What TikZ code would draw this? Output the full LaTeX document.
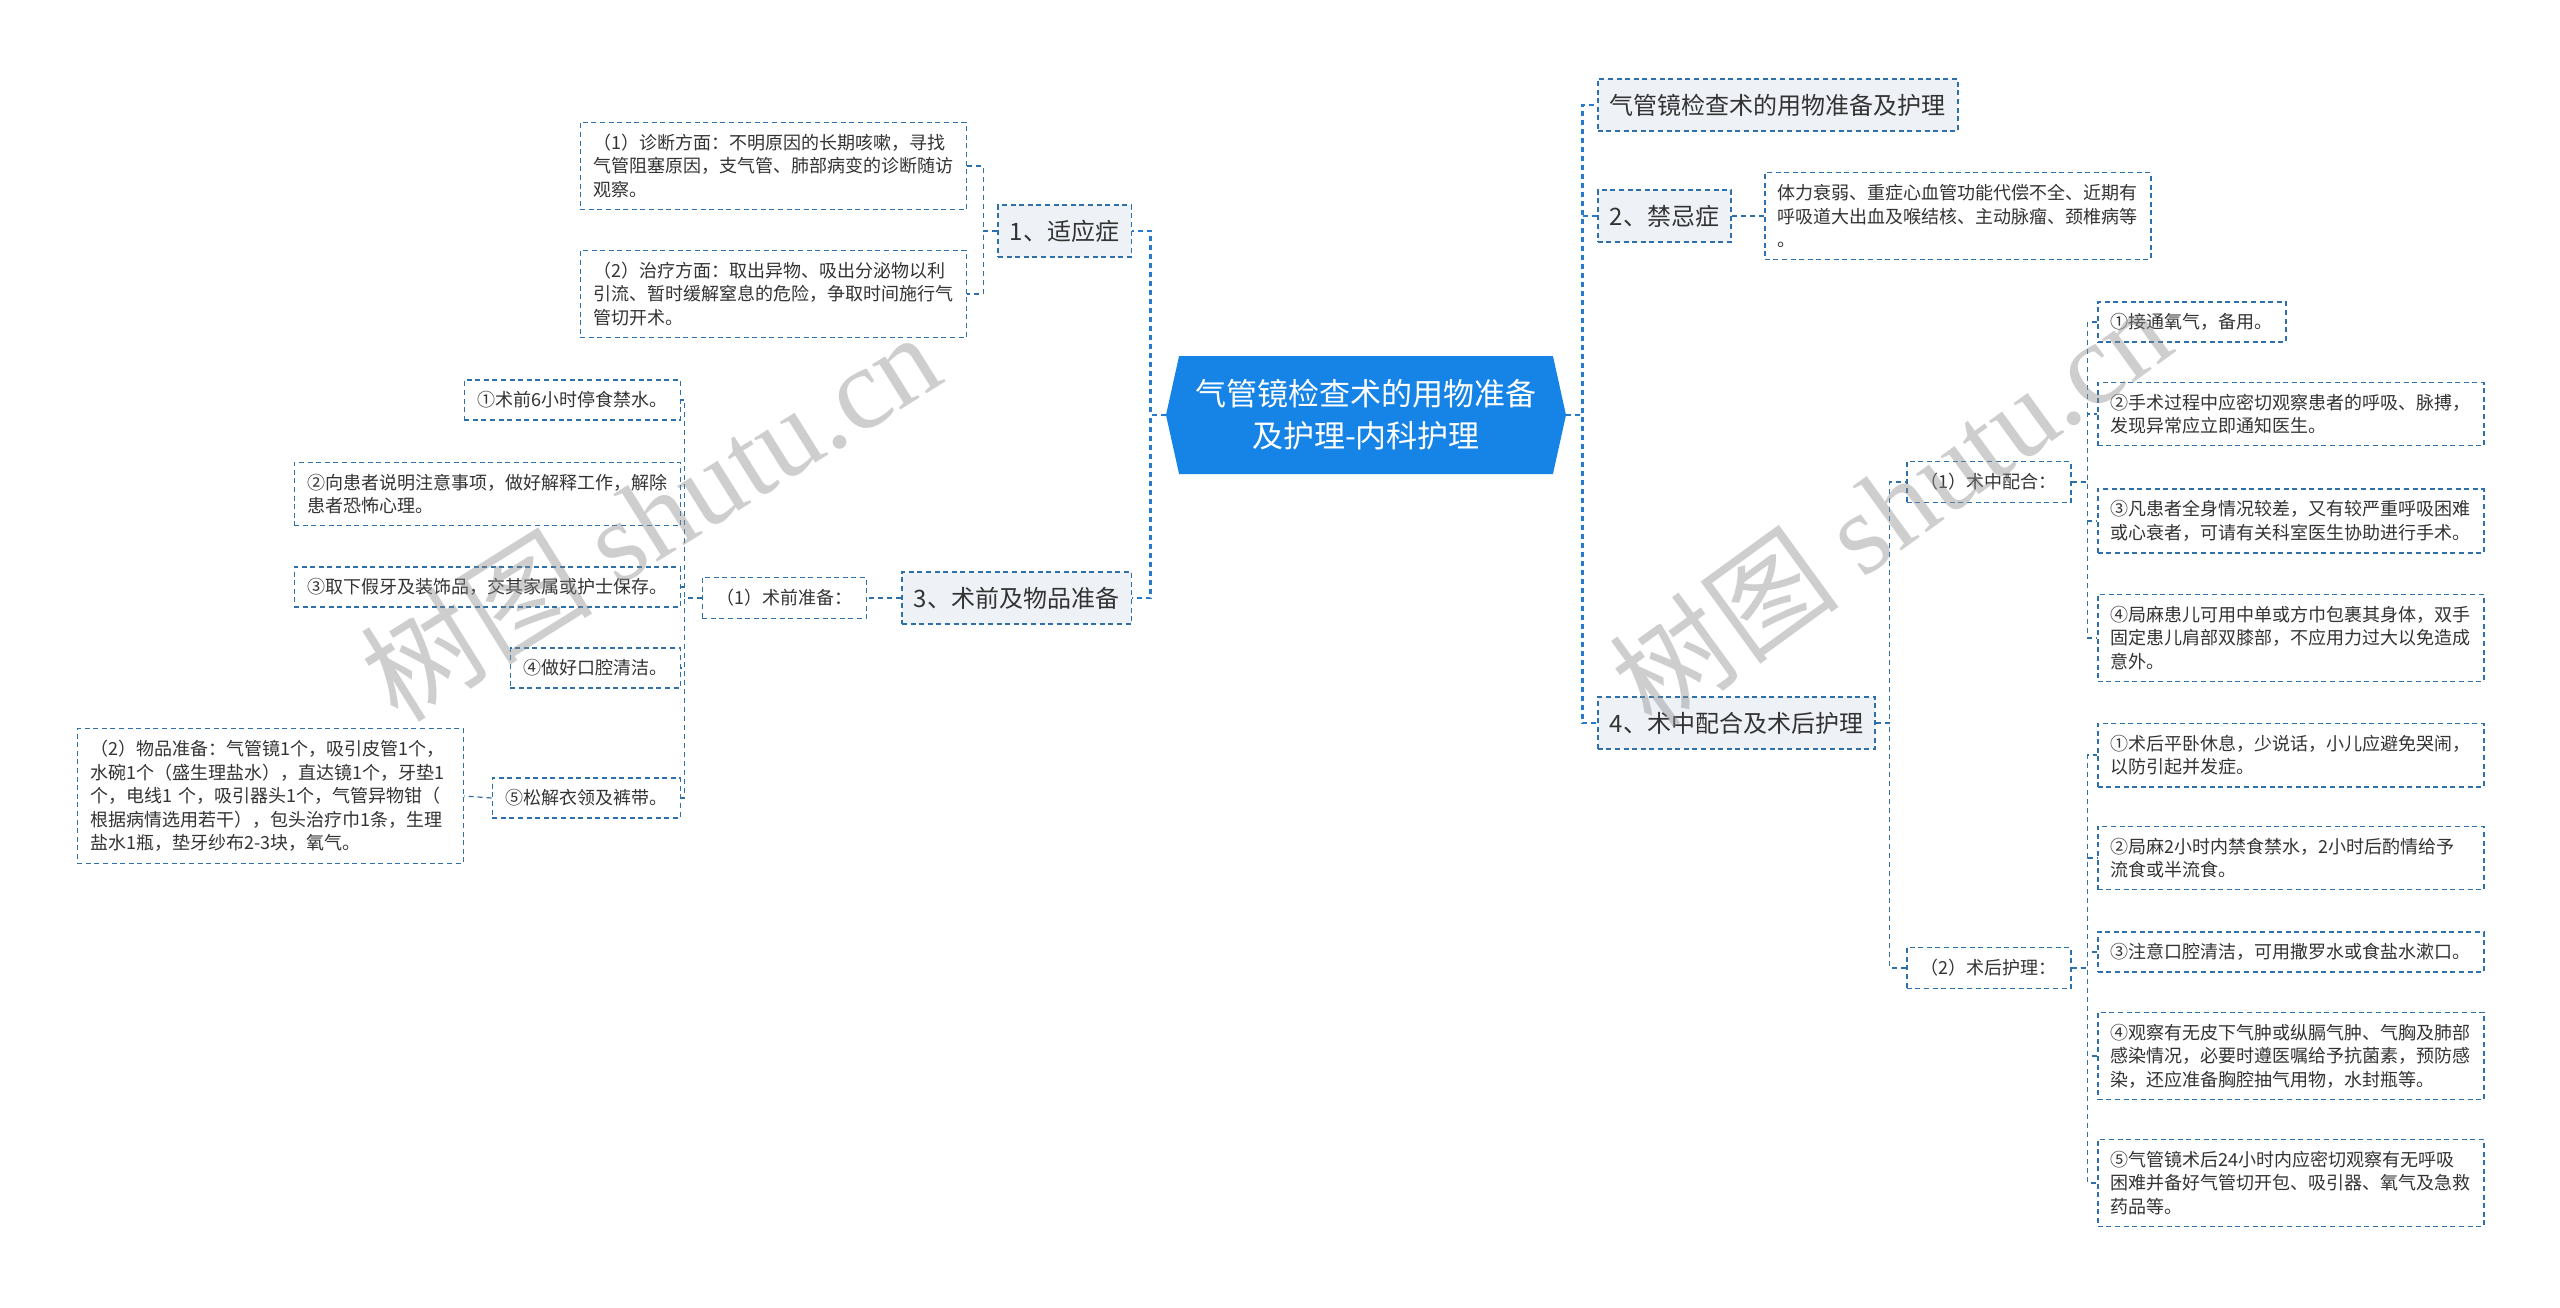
\documentclass[tikz,border=0pt]{standalone}
\usepackage{fontspec}
\setmainfont{Noto Sans CJK SC}
\newfontfamily\wmfont{Liberation Serif}
\usepackage{xcolor}
\usetikzlibrary{shapes.symbols,positioning}

\definecolor{rootblue}{RGB}{22,131,230}
\definecolor{boxline}{RGB}{46,112,170}
\definecolor{trunkblue}{RGB}{40,122,205}
\definecolor{topicfill}{RGB}{238,242,246}
\definecolor{textcol}{RGB}{51,51,51}

\tikzset{
  rootbox/.style={signal, signal to=west and east, signal pointer angle=155,
    fill=rootblue, text=white, font=\fontsize{15.5}{21}\selectfont, align=center,
    minimum width=200pt, minimum height=59pt, inner sep=2pt},
  topicbox/.style={draw=boxline, line width=0.75pt, dash pattern=on 2.5pt off 1.8pt,
    fill=topicfill, text=textcol, font=\fontsize{12}{15}\selectfont,
    inner xsep=6pt, minimum height=26pt},
  subbox/.style={draw=boxline, line width=0.75pt, dash pattern=on 2.5pt off 1.8pt,
    fill=white, text=textcol, font=\fontsize{9}{11.8}\selectfont,
    inner xsep=7pt, inner ysep=6pt},
  leafbox/.style={draw=boxline, line width=0.75pt, dash pattern=on 2.5pt off 1.8pt,
    fill=white, text=textcol, font=\fontsize{9}{11.8}\selectfont, align=left,
    inner xsep=6.5pt, inner ysep=5.75pt},
  widebox/.style={leafbox, text width=180pt},
  conn/.style={draw=boxline, line width=0.6pt, dash pattern=on 2.5pt off 2pt},
  trunk/.style={draw=trunkblue, line width=1.4pt, dash pattern=on 2.5pt off 2pt},
  wmark/.style={text=black!45, text opacity=0.42, font=\fontsize{58}{60}\selectfont}
}

\begin{document}
\begin{tikzpicture}[x=0.5pt, y=-0.5pt]
    \useasboundingbox[fill=white] (0,0) rectangle (2560,1307);

    \node[rootbox] (root) at (1366,415) {气管镜检查术的用物准备\\及护理-内科护理};

    % Left Side
    \node[topicbox, anchor=east] (ind) at (1132,231) {1、适应症};
    \node[topicbox, anchor=east] (prep) at (1132,598) {3、术前及物品准备};
    \foreach \n in {ind, prep} {
        \draw[trunk] (root.west) -- ++(-15,0) |- (\n.east);
    }

    \node[widebox, anchor=east] (diag) at (967,166) {（1）诊断方面：不明原因的长期咳嗽，寻找\\气管阻塞原因，支气管、肺部病变的诊断随访\\观察。};
    \node[widebox, anchor=east] (treat) at (967,294) {（2）治疗方面：取出异物、吸出分泌物以利\\引流、暂时缓解窒息的危险，争取时间施行气\\管切开术。};
    \foreach \n in {diag, treat} {
        \draw[conn] (ind.west) -- ++(-14,0) |- (\n.east);
    }

    \node[subbox, anchor=east] (pre) at (867,598) {（1）术前准备：};
    \draw[conn] (prep.west) -- (pre.east);
    \foreach \n/\y/\lab in {pa/400/{①术前6小时停食禁水。},
        pb/494/{②向患者说明注意事项，做好解释工作，解除\\患者恐怖心理。},
        pc/587/{③取下假牙及装饰品，交其家属或护士保存。},
        pd/668/{④做好口腔清洁。},
        pe/798/{⑤松解衣领及裤带。}} {
        \node[leafbox, anchor=east] (\n) at (681,\y) {\lab};
        \draw[conn] (pre.west) -- ++(-17,0) |- (\n.east);
    }

    \node[widebox, anchor=east] (items) at (464,796) {（2）物品准备：气管镜1个，吸引皮管1个，\\水碗1个（盛生理盐水），直达镜1个，牙垫1\\个，电线1 个，吸引器头1个，气管异物钳（\\根据病情选用若干），包头治疗巾1条，生理\\盐水1瓶，垫牙纱布2-3块，氧气。};
    \draw[conn] (pe.west) -- (items.east);

    % Right Side
    \node[topicbox, anchor=west] (gen) at (1597,105) {气管镜检查术的用物准备及护理};
    \node[topicbox, anchor=west] (contra) at (1597,216) {2、禁忌症};
    \node[topicbox, anchor=west] (op) at (1597,723) {4、术中配合及术后护理};
    \foreach \n in {gen, contra, op} {
        \draw[trunk] (root.east) -- ++(16,0) |- (\n.west);
    }

    \node[widebox, anchor=west] (contratxt) at (1764,216) {体力衰弱、重症心血管功能代偿不全、近期有\\呼吸道大出血及喉结核、主动脉瘤、颈椎病等\\。};
    \draw[conn] (contra.east) -- (contratxt.west);

    \node[subbox, anchor=west] (inop) at (1906,482) {（1）术中配合：};
    \node[subbox, anchor=west] (postop) at (1906,968) {（2）术后护理：};
    \foreach \n in {inop, postop} {
        \draw[conn] (op.east) -- ++(14,0) |- (\n.west);
    }

    \node[leafbox, anchor=west] (ia) at (2097,322) {①接通氧气，备用。};
    \draw[conn] (inop.east) -- ++(16,0) |- (ia.west);
    \foreach \n/\y/\lab in {ib/414/{②手术过程中应密切观察患者的呼吸、脉搏，\\发现异常应立即通知医生。},
        ic/521/{③凡患者全身情况较差，又有较严重呼吸困难\\或心衰者，可请有关科室医生协助进行手术。},
        id/638/{④局麻患儿可用中单或方巾包裹其身体，双手\\固定患儿肩部双膝部，不应用力过大以免造成\\意外。}} {
        \node[widebox, anchor=west] (\n) at (2097,\y) {\lab};
        \draw[conn] (inop.east) -- ++(16,0) |- (\n.west);
    }

    \foreach \n/\y/\lab in {qa/755/{①术后平卧休息，少说话，小儿应避免哭闹，\\以防引起并发症。},
        qb/858/{②局麻2小时内禁食禁水，2小时后酌情给予\\流食或半流食。},
        qc/952/{③注意口腔清洁，可用撒罗水或食盐水漱口。},
        qd/1056/{④观察有无皮下气肿或纵膈气肿、气胸及肺部\\感染情况，必要时遵医嘱给予抗菌素，预防感\\染，还应准备胸腔抽气用物，水封瓶等。},
        qe/1183/{⑤气管镜术后24小时内应密切观察有无呼吸\\困难并备好气管切开包、吸引器、氧气及急救\\药品等。}} {
        \node[widebox, anchor=west] (\n) at (2097,\y) {\lab};
        \draw[conn] (postop.east) -- ++(16,0) |- (\n.west);
    }

    % watermark
    \node[wmark, rotate=32] (wm1) at (650,515) {树图 {\wmfont shutu.cn}};
    \node[wmark, rotate=36] (wm2) at (1890,505) {树图 {\wmfont shutu.cn}};
\end{tikzpicture}
\end{document}
